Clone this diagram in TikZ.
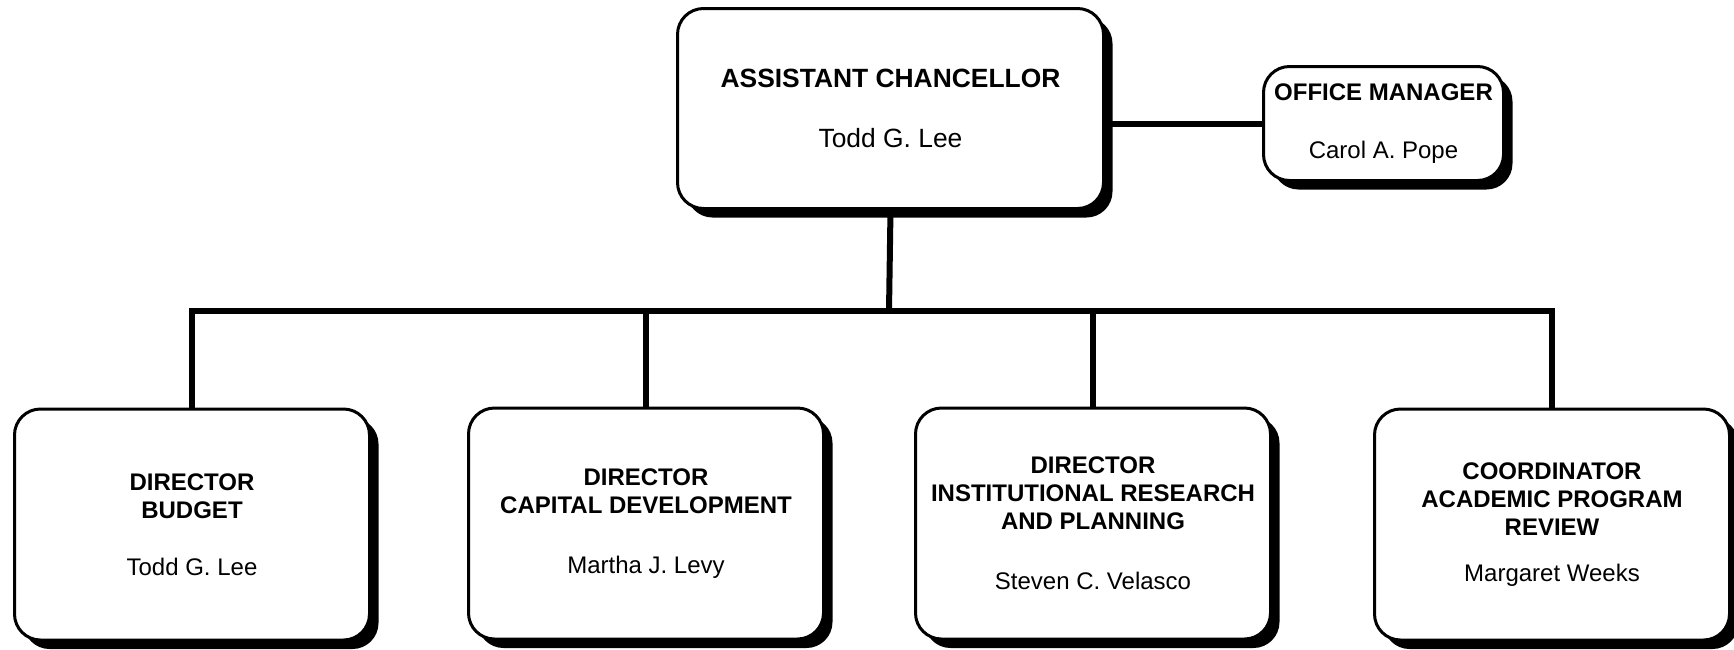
\documentclass[tikz,border=0pt]{standalone}
\usepackage{fontspec}
\setmainfont{Liberation Sans}
\usetikzlibrary{shadows}

\begin{document}
\begin{tikzpicture}[x=0.5pt, y=-0.5pt]
        \tikzset{
            post/.style={draw, line width=1.5pt, rounded corners=13pt, fill=white,
                align=center, inner sep=0pt, font=\fontsize{12}{14}\selectfont,
                drop shadow={shadow xshift=4.5pt, shadow yshift=-4.5pt, fill=black, opacity=1}},
            unit/.style={post, minimum width=177.5pt, minimum height=115.5pt},
            link/.style={line width=3pt},
        }
        \useasboundingbox (0,0) rectangle (1734,649);

        \node[post, minimum width=213pt, minimum height=100pt, font=\fontsize{13.2}{16}\selectfont] (chief) at (890.5,108.5)
            {\textbf{ASSISTANT CHANCELLOR}\\[14pt]Todd G. Lee};
        \node[post, minimum width=120pt, minimum height=57pt] (office) at (1383.5,123.5)
            {\textbf{OFFICE MANAGER}\\[15pt]Carol A. Pope};

        \node[unit] (budget) at (192,524.5)
            {\textbf{DIRECTOR}\\\textbf{BUDGET}\\[14.5pt]Todd G. Lee};
        \node[unit] (capital) at (646,523.5)
            {\textbf{DIRECTOR}\\\textbf{CAPITAL DEVELOPMENT}\\[16pt]Martha J. Levy};
        \node[unit] (research) at (1093,523.5)
            {\textbf{DIRECTOR}\\\textbf{INSTITUTIONAL RESEARCH}\\\textbf{AND PLANNING}\\[16pt]Steven C. Velasco};
        \node[unit] (review) at (1552,524.5)
            {\textbf{COORDINATOR}\\\textbf{ACADEMIC PROGRAM}\\\textbf{REVIEW}\\[9pt]Margaret Weeks};

        % reporting lines
        \coordinate (bus) at (889,311);
        \draw[link] (chief.south) -- (bus);
        \draw[link] (office.west) -- (office.west -| chief.east);
        \draw[link] (budget.north) |- (bus) -| (review.north);
        \draw[link] (capital.north) -- (capital.north |- bus);
        \draw[link] (research.north) -- (research.north |- bus);
\end{tikzpicture}
\end{document}
